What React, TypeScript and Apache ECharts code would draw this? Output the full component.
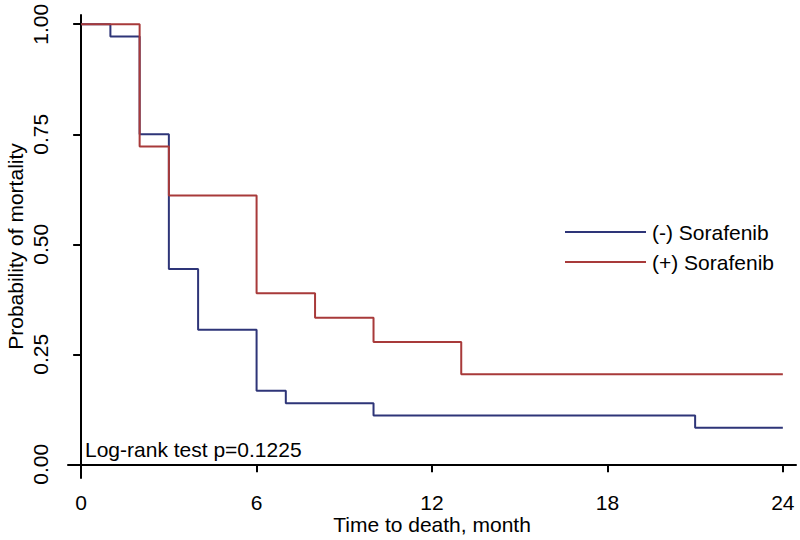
import React, { useEffect, useRef } from "react";
import * as echarts from "echarts";

const tickMonths = [0, 6, 12, 18, 24];
const tickProbs = [0, 0.25, 0.5, 0.75, 1];

const negTimes = [0, 1, 2, 3, 4, 6, 7, 10, 21, 24];
const negValues = [1, 0.972, 0.75, 0.444, 0.306, 0.167, 0.139, 0.111, 0.083, 0.083];

const posTimes = [0, 2, 3, 6, 8, 10, 13, 24];
const posValues = [1, 0.722, 0.611, 0.389, 0.333, 0.278, 0.205, 0.205];

const negName = "(-) Sorafenib";
const posName = "(+) Sorafenib";
const annotation = "Log-rank test p=0.1225";

const FONT = "Liberation Sans, Arial, sans-serif";
const FS = 21;

export default function App() {
  const ref = useRef<HTMLDivElement>(null);
  useEffect(() => {
    if (!ref.current) return;
    const chart = echarts.init(ref.current, undefined, { renderer: "svg" });
    const pair = (ts: number[], vs: number[]) => ts.map((t, i) => [t, vs[i]]);
    chart.setOption({
      animation: false,
      backgroundColor: "#ffffff",
      textStyle: { fontFamily: FONT },
      grid: { left: 68, right: 4, top: 15, bottom: 62, containLabel: false, outerBoundsMode: "none" },
      xAxis: {
        type: "value",
        min: -0.45,
        max: 24.45,
        name: "Time to death, month",
        nameLocation: "middle",
        nameGap: 36,
        nameMoveOverlap: false,
        nameTextStyle: { fontSize: FS, color: "#000", fontFamily: FONT, lineHeight: 20 },
        axisLine: { show: true, lineStyle: { color: "#000", width: 2 } },
        axisTick: { show: true, customValues: tickMonths, length: 8, lineStyle: { color: "#000", width: 2 } },
        axisLabel: { customValues: tickMonths, fontSize: FS, color: "#000", margin: 14, lineHeight: 20, fontFamily: FONT },
        splitLine: { show: false },
      },
      yAxis: {
        type: "value",
        min: -0.031,
        max: 1.021,
        name: "Probability of mortality",
        nameLocation: "middle",
        nameRotate: 90,
        nameGap: 42,
        nameMoveOverlap: false,
        nameTextStyle: { fontSize: FS, color: "#000", fontFamily: FONT, lineHeight: 22 },
        axisLine: { show: true, lineStyle: { color: "#000", width: 2 } },
        axisTick: { show: true, customValues: tickProbs, length: 8, lineStyle: { color: "#000", width: 2 } },
        axisLabel: {
          customValues: tickProbs,
          rotate: 90,
          fontSize: FS,
          color: "#000",
          margin: 17,
          fontFamily: FONT,
          formatter: (v: number) => v.toFixed(2),
        },
        splitLine: { show: false },
      },
      legend: {
        orient: "vertical",
        left: 560,
        top: 216,
        icon: "rect",
        itemWidth: 81,
        itemHeight: 2,
        itemGap: 8,
        textStyle: { fontSize: FS, color: "#000", fontFamily: FONT, padding: [0, 0, 0, 1], lineHeight: 22 },
        data: [negName, posName],
      },
      graphic: [
        {
          type: "text",
          left: 85,
          top: 439,
          style: { text: annotation, fontSize: FS, fill: "#000", fontFamily: FONT },
        },
      ],
      series: [
        {
          name: negName,
          type: "line",
          step: "end",
          symbol: "none",
          data: pair(negTimes, negValues),
          lineStyle: { color: "#2e3578", width: 2 },
          itemStyle: { color: "#2e3578" },
          z: 2,
        },
        {
          name: posName,
          type: "line",
          step: "end",
          symbol: "none",
          data: pair(posTimes, posValues),
          lineStyle: { color: "#a83a3a", width: 2 },
          itemStyle: { color: "#a83a3a" },
          z: 3,
        },
      ],
    });
    return () => chart.dispose();
  }, []);
  return (
    <div
      ref={ref}
      style={{ position: "fixed", left: 0, top: 0, width: 800, height: 540 }}
    />
  );
}
